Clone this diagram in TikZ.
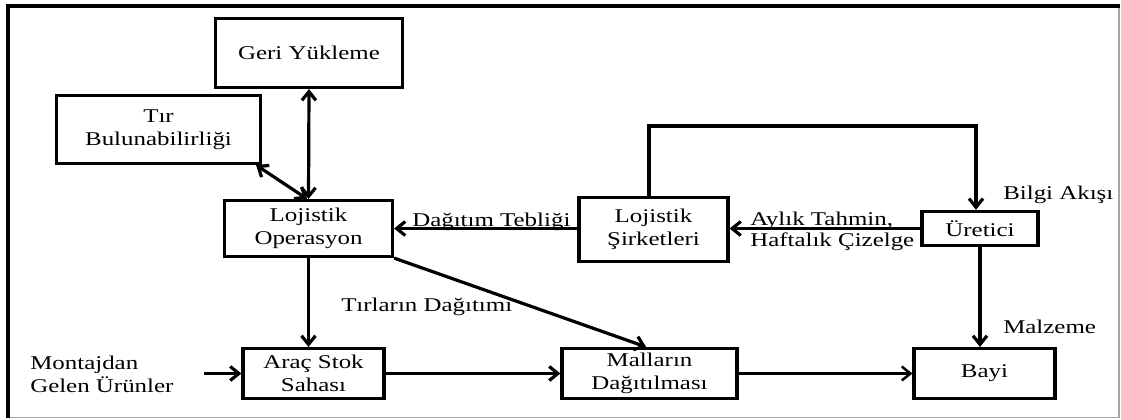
\documentclass[tikz,border=0pt]{standalone}
\usepackage{fontspec}
\setmainfont{Liberation Serif}[FakeStretch=1.28]
\usetikzlibrary{arrows.meta,calc}
\begin{document}
\begin{tikzpicture}[x=0.75pt,y=-0.75pt,
  font=\fontsize{14.6pt}{17pt}\selectfont,
  box/.style={draw,line width=2.6pt,align=center,inner sep=0pt},
  arr/.style={line width=2.4pt,-{Straight Barb[length=6.5pt,width=10.5pt]}},
  darr/.style={line width=2.4pt,{Straight Barb[length=6.5pt,width=10.5pt]}-{Straight Barb[length=6.5pt,width=10.5pt]}},
  lbl/.style={inner sep=0pt,align=left}]
\useasboundingbox (0,0) rectangle (1121,419);

% outer frame
\draw[gray!70,line width=0.8pt] (1119,6) -- (1119,417.5) -- (8,417.5);
\draw[line width=2.4pt] (8,417.5) -- (8,6) -- (1119.5,6);

% boxes
\node[box,minimum width=140pt,minimum height=51.5pt] (geri) at (309,53) {Geri Yükleme};
\node[box,minimum width=152.75pt,minimum height=50.75pt] (tir) at (158.5,129.5) {Tır\\Bulunabilirliği};
\node[box,minimum width=125.75pt,minimum height=41.75pt] (lojop) at (308.5,228.5) {Lojistik\\Operasyon};
\node[box,minimum width=111.5pt,minimum height=47.75pt] (lojsir) at (653.5,229.5) {Lojistik\\Şirketleri};
\node[box,minimum width=86.75pt,minimum height=25.5pt] (uretici) at (980,228.5) {Üretici};
\node[box,minimum width=105.5pt,minimum height=37.25pt] (arac) at (313.5,373.5) {Araç Stok\\Sahası};
\node[box,minimum width=131pt,minimum height=37.25pt] (mallar) at (649.5,373.5) {Malların\\Dağıtılması};
\node[box,minimum width=105.5pt,minimum height=37.25pt] (bayi) at (984.5,373.5) {Bayi};

% free texts
\node[lbl,anchor=base west] (teblig) at (412,226) {Dağıtım Tebliği};
\node[lbl,anchor=west,font=\fontsize{14.6pt}{15.75pt}\selectfont] (tahmin) at (750,231) {Aylık Tahmin,\\Haftalık Çizelge};
\node[lbl,anchor=west] (bilgi) at (1003,195) {Bilgi Akışı};
\node[lbl,anchor=west] (tirdag) at (341,307) {Tırların Dağıtımı};
\node[lbl,anchor=west] (malzeme) at (1003,327) {Malzeme};
\node[lbl,anchor=west] (montaj) at (30,374) {Montajdan\\Gelen Ürünler};

% helper points
\coordinate (loop) at (976,126);
\coordinate (in) at (204,373.5);

% connectors
\draw[darr] (geri.south) -- (lojop.north);
\draw[darr] ([xshift=-4.5pt]tir.south east) -- ([xshift=-1pt]lojop.north);
\draw[arr] (lojsir.west |- lojop.east) -- (lojop.east);
\draw[arr] (uretici.west) -- (uretici.west -| lojsir.east);
\draw[arr] ([xshift=-3.4pt]lojsir.north) |- (loop) -- (loop |- uretici.north);
\draw[arr] (lojop.south) -- (lojop.south |- arac.north);
\draw[arr] (lojop.south east) -- ([xshift=-2.5pt]mallar.north);
\draw[arr] (uretici.south) -- (uretici.south |- bayi.north);
\draw[arr] (in) -- (arac.west);
\draw[arr] (arac.east) -- (mallar.west);
\draw[arr,line width=1.9pt] (mallar.east) -- (bayi.west);
\end{tikzpicture}
\end{document}
